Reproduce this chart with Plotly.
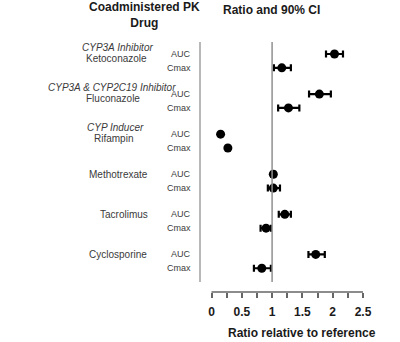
import plotly.graph_objects as go

# ---- data ----
drugs = ["Ketoconazole", "Fluconazole", "Rifampin", "Methotrexate", "Tacrolimus", "Cyclosporine"]
categories = ["CYP3A Inhibitor", "CYP3A & CYP2C19 Inhibitor", "CYP Inducer", "", "", ""]
params = ["AUC", "Cmax"]

auc_ratio = [2.03, 1.78, 0.15, 1.02, 1.21, 1.72]
auc_low = [1.89, 1.61, 0.13, 0.99, 1.11, 1.60]
auc_high = [2.17, 1.97, 0.17, 1.05, 1.31, 1.87]

cmax_ratio = [1.16, 1.27, 0.27, 1.02, 0.90, 0.83]
cmax_low = [1.03, 1.10, 0.25, 0.93, 0.81, 0.70]
cmax_high = [1.31, 1.45, 0.29, 1.13, 0.98, 0.98]

x_ticks = [0, 0.5, 1, 1.5, 2, 2.5]
x_tick_text = ["0", "0.5", "1", "1.5", "2", "2.5"]
x_minor_ticks = [0.25, 0.75, 1.25, 1.75, 2.25]

# ---- layout helpers ----
GAP = 2.9
W, H = 400, 342
ML, MR, MT, MB = 200, 34, 42, 50
PW = W - ML - MR
PH = H - MT - MB


def px_to_paper(px):
    return (px - ML) / PW


def py_to_paper(py):
    return 1 - (py - MT) / PH


ys, xs, lo, hi, labs = [], [], [], [], []
for g in range(len(drugs)):
    for k, (r, l, h) in enumerate([(auc_ratio[g], auc_low[g], auc_high[g]),
                                   (cmax_ratio[g], cmax_low[g], cmax_high[g])]):
        ys.append(g * GAP + k)
        xs.append(r)
        lo.append(r - l)
        hi.append(h - r)
        labs.append(params[k])

fig = go.Figure()
fig.add_trace(go.Scatter(
    x=xs, y=ys, mode="markers",
    marker=dict(color="black", size=9, symbol="circle"),
    error_x=dict(type="data", symmetric=False, array=hi, arrayminus=lo,
                 color="black", thickness=2.2, width=3.5),
    showlegend=False, hoverinfo="x+y",
))

y_top = -0.87
y_line_bottom = (len(drugs) - 1) * GAP + 2.0
y_bottom = y_line_bottom + 0.72

shapes = [
    dict(type="line", xref="paper", yref="y", x0=0, x1=0, y0=y_top, y1=y_line_bottom,
         line=dict(color="#a0a0a0", width=1.5)),
    dict(type="line", xref="x", yref="y", x0=1, x1=1, y0=y_top, y1=y_line_bottom,
         line=dict(color="#909090", width=1.5)),
    dict(type="line", xref="x", yref="paper", x0=0, x1=2.5, y0=0, y1=0,
         line=dict(color="#666666", width=1.5)),
]

annotations = []
TXT = "#3a3a3a"
FAM = "Liberation Sans, Arial, sans-serif"
font_lbl = dict(family=FAM, size=9, color=TXT)
font_drug = dict(family=FAM, size=10, color=TXT)
for y, lab in zip(ys, labs):
    annotations.append(dict(x=px_to_paper(193), y=y, xref="paper", yref="y", text=lab,
                            showarrow=False, xanchor="right", yanchor="middle", font=font_lbl))

drug_cx = [116, 113, 113, 118, 124, 118]
cat_cx = [117, 112, 115, 0, 0, 0]
for g, (d, c) in enumerate(zip(drugs, categories)):
    base = g * GAP
    if c:
        annotations.append(dict(x=px_to_paper(cat_cx[g]), y=base - 0.45, xref="paper", yref="y",
                                text="<i>" + c + "</i>", showarrow=False, xanchor="center",
                                yanchor="middle", font=font_drug))
        annotations.append(dict(x=px_to_paper(drug_cx[g]), y=base + 0.3, xref="paper", yref="y",
                                text=d, showarrow=False, xanchor="center", yanchor="middle",
                                font=font_drug))
    else:
        annotations.append(dict(x=px_to_paper(drug_cx[g]), y=base, xref="paper", yref="y",
                                text=d, showarrow=False, xanchor="center", yanchor="middle",
                                font=font_drug))

font_title = dict(family=FAM, size=12, color="#1a1a1a")
annotations += [
    dict(x=px_to_paper(144), y=py_to_paper(15), xref="paper", yref="paper",
         text="<b>Coadministered PK<br>Drug</b>", showarrow=False, xanchor="center",
         yanchor="middle", align="center", font=font_title),
    dict(x=px_to_paper(271.5), y=py_to_paper(10), xref="paper", yref="paper",
         text="<b>Ratio and 90% CI</b>", showarrow=False, xanchor="center", yanchor="middle",
         font=font_title),
    dict(x=px_to_paper(302), y=py_to_paper(333), xref="paper", yref="paper",
         text="<b>Ratio relative to reference</b>", showarrow=False, xanchor="center",
         yanchor="middle", font=font_title),
]

fig.update_layout(
    width=W, height=H,
    margin=dict(l=ML, r=MR, t=MT, b=MB),
    paper_bgcolor="white", plot_bgcolor="white",
    shapes=shapes, annotations=annotations,
    xaxis=dict(range=[-0.19, 2.55], showgrid=False, zeroline=False, showline=False,
               tickvals=x_ticks, ticktext=x_tick_text, ticks="outside", ticklen=5,
               tickwidth=1.5, tickcolor="#666666", ticklabelstandoff=4,
               minor=dict(tickvals=x_minor_ticks, ticks="outside",
                          ticklen=5, tickwidth=1.5, tickcolor="#666666"),
               tickfont=dict(family=FAM, size=12, color="#1a1a1a", weight="bold"),
               fixedrange=True),
    yaxis=dict(range=[y_bottom, y_top], showgrid=False, zeroline=False, showline=False,
               showticklabels=False, ticks="", fixedrange=True),
)

fig.write_html("out.html")
